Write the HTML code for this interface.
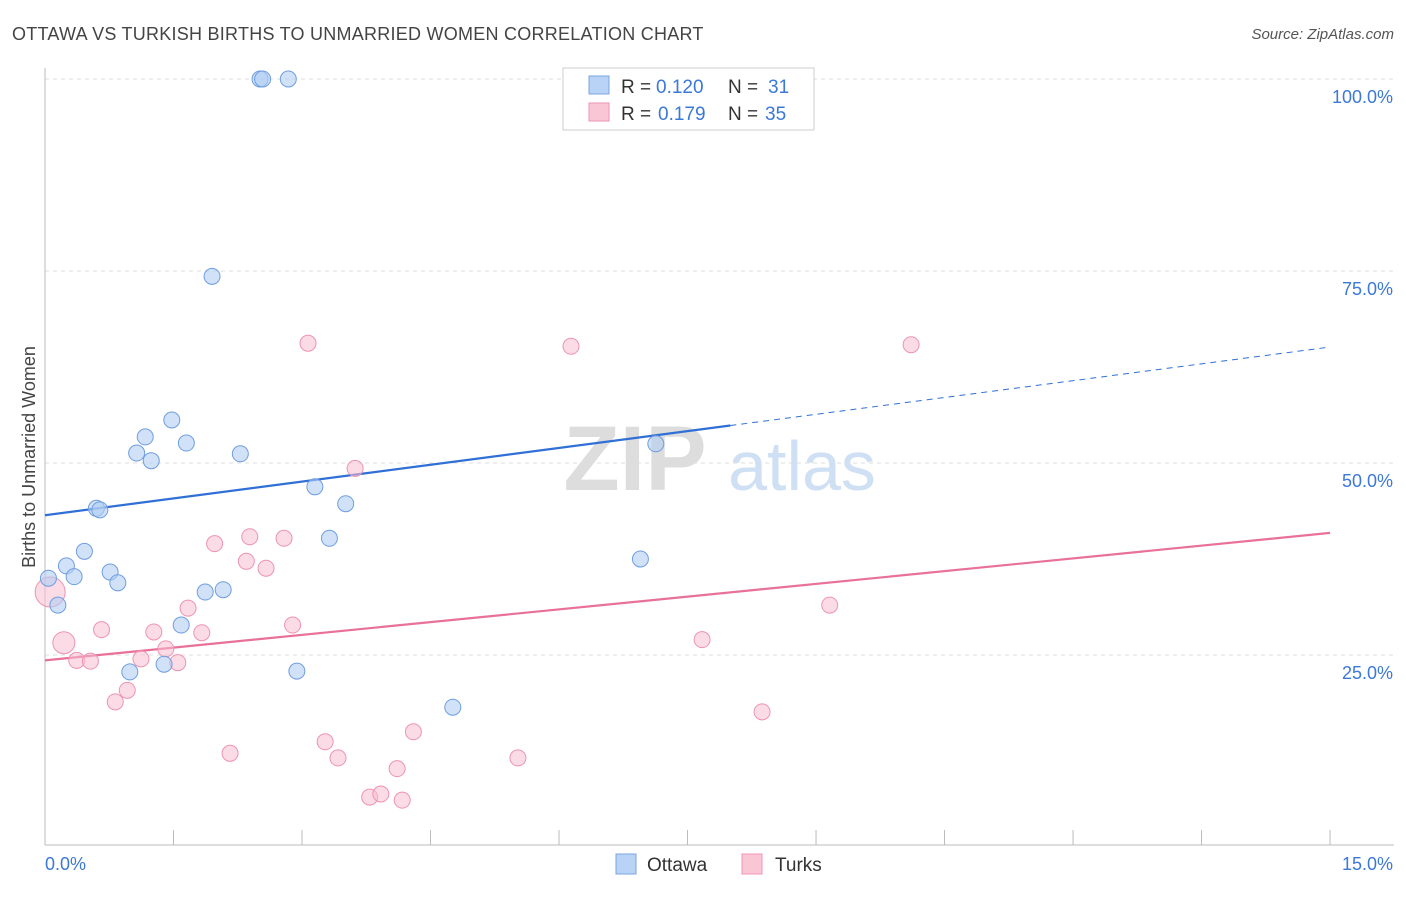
<!DOCTYPE html>
<html><head><meta charset="utf-8"><style>
body{margin:0;background:#fff;font-family:"Liberation Sans",sans-serif;}
svg text{font-family:"Liberation Sans",sans-serif;}
</style></head><body>
<svg id="c" width="1406" height="892">
<text x="12" y="40" font-size="18" fill="#444" letter-spacing="0.25">OTTAWA VS TURKISH BIRTHS TO UNMARRIED WOMEN CORRELATION CHART</text>
<text x="1394" y="39" font-size="15" fill="#555" font-style="italic" text-anchor="end">Source: ZipAtlas.com</text>
<text x="35" y="457" font-size="18" fill="#444" text-anchor="middle" transform="rotate(-90 35 457)">Births to Unmarried Women</text>
<g id="grid"></g><g id="axes"></g>
<text x="635" y="490" font-size="92" fill="#ddd" font-family="Liberation Serif" font-weight="bold" text-anchor="middle">ZIP</text>
<text x="802" y="490" font-size="70" fill="#cfe0f5" text-anchor="middle">atlas</text>
<g id="trends"></g><g id="pts"></g>
<g>
<rect x="563" y="68" width="251" height="62" fill="#fff" stroke="#ccc"/>
<rect x="589" y="76" width="20" height="18" fill="#b8d3f5" stroke="#7aa5e0"/>
<rect x="589" y="103" width="20" height="18" fill="#f9c6d5" stroke="#ee94b0"/>
<text x="621" y="93" font-size="19" fill="#333">R =</text>
<text x="656" y="93" font-size="19" fill="#3b78d8">0.120</text>
<text x="728" y="93" font-size="19" fill="#333">N =</text>
<text x="768" y="93" font-size="19" fill="#3b78d8">31</text>
<text x="621" y="120" font-size="19" fill="#333">R =</text>
<text x="658" y="120" font-size="19" fill="#3b78d8">0.179</text>
<text x="728" y="120" font-size="19" fill="#333">N =</text>
<text x="765" y="120" font-size="19" fill="#3b78d8">35</text>
</g>
<g>
<rect x="616" y="854" width="20" height="20" fill="#b8d3f5" stroke="#7aa5e0"/>
<text x="647" y="871" font-size="19" fill="#333">Ottawa</text>
<rect x="742" y="854" width="20" height="20" fill="#f9c6d5" stroke="#ee94b0"/>
<text x="775" y="871" font-size="19" fill="#333">Turks</text>
</g>
</svg>
<script>
const ottawaX=[2.51,2.54,2.84,1.95,1.48,1.17,1.65,1.07,1.24,2.28,7.13,3.15,3.51,0.60,0.64,3.32,0.46,6.95,0.25,0.76,0.34,0.04,0.85,2.08,1.87,0.15,1.59,2.94,0.99,1.39,4.76];
const ottawaY=[100,100,100,74.3,55.6,53.4,52.6,51.3,50.3,51.2,52.5,46.9,44.7,44.1,43.9,40.2,38.5,37.5,36.6,35.8,35.2,35.0,34.4,33.5,33.2,31.5,28.9,22.9,22.8,23.8,18.2];
const turksX=[0.06,0.22,3.07,6.14,10.11,3.62,2.39,2.79,1.98,2.35,2.58,1.67,9.16,0.66,2.89,1.27,1.83,7.67,1.41,1.12,1.55,0.37,0.53,0.96,0.82,8.37,2.16,3.27,4.30,3.42,5.52,4.11,3.79,3.92,4.17];
const turksY=[33.2,26.6,65.6,65.2,65.4,49.3,40.4,40.2,39.5,37.2,36.3,31.1,31.5,28.3,28.9,28.0,27.9,27.0,25.8,24.5,24.0,24.3,24.2,20.4,18.9,17.6,12.2,13.7,15.0,11.6,11.6,10.2,6.5,6.9,6.1];
const yTicks=[25,50,75,100];
const yTickLabels=["25.0%","50.0%","75.0%","100.0%"];
const ottawaTrend=[43.2,65.1];
const turksTrend=[24.3,40.9];
const ottawaSolidEnd=8.0;
const xs=v=>45+v*85.67, ys=v=>847-v*7.68;
const NS="http://www.w3.org/2000/svg";
function mk(t,a,p){const e=document.createElementNS(NS,t);for(const k in a)e.setAttribute(k,a[k]);p.appendChild(e);return e;}
const grid=document.getElementById('grid'),axes=document.getElementById('axes');
yTicks.forEach((t,i)=>{
 const l=mk('line',{x1:45,x2:1394,y1:ys(t),y2:ys(t),stroke:'#ddd','stroke-dasharray':'4,4'},grid);
 
 
 const tx=mk('text',{x:1393,y:ys(t)+24,'font-size':18,fill:'#3b78d8','text-anchor':'end'},axes);
 tx.textContent=yTickLabels[i];
 
 
});
mk('line',{x1:45,x2:45,y1:68,y2:845,stroke:'#bbb'},axes);
mk('line',{x1:45,x2:1394,y1:845,y2:845,stroke:'#bbb'},axes);
for(let i=0;i<=10;i++){const x=xs(i*1.5);mk('line',{x1:x,x2:x,y1:830,y2:845,stroke:'#bbb'},axes);}
const x0=mk('text',{x:45,y:870,'font-size':18,fill:'#3b78d8'},axes);x0.textContent='0.0%';


const x1=mk('text',{x:1393,y:870,'font-size':18,fill:'#3b78d8','text-anchor':'end'},axes);x1.textContent='15.0%';


const tr=document.getElementById('trends');
const oy=x=>ottawaTrend[0]+(ottawaTrend[1]-ottawaTrend[0])*x/15;
let l1=mk('line',{x1:xs(0),y1:ys(oy(0)),x2:xs(ottawaSolidEnd),y2:ys(oy(ottawaSolidEnd)),stroke:'#2f6fd6','stroke-width':2.2},tr);


let l2=mk('line',{x1:xs(ottawaSolidEnd),y1:ys(oy(ottawaSolidEnd)),x2:xs(15),y2:ys(oy(15)),stroke:'#2f6fd6','stroke-width':1,'stroke-dasharray':'6,5'},tr);


let l3=mk('line',{x1:xs(0),y1:ys(turksTrend[0]),x2:xs(15),y2:ys(turksTrend[1]),stroke:'#e8709a','stroke-width':2.2},tr);


const pts=document.getElementById('pts');
turksX.forEach((x,i)=>{const r=i==0?15:(i==1?11:8);
 const c=mk('circle',{cx:xs(x),cy:ys(turksY[i]),r:r,fill:'rgba(248,190,208,0.55)',stroke:'#ee94b0','stroke-width':1},pts);
 
 });
ottawaX.forEach((x,i)=>{
 const c=mk('circle',{cx:xs(x),cy:ys(ottawaY[i]),r:8,fill:'rgba(176,205,243,0.6)',stroke:'#6f9ee0','stroke-width':1},pts);
 
 });
</script>
</body></html>
